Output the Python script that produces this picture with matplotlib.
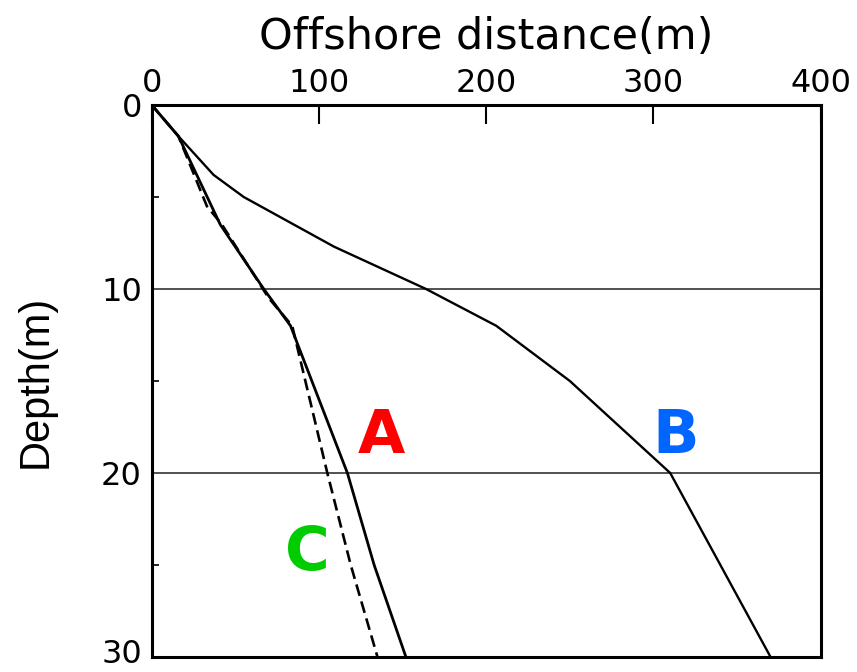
import matplotlib.pyplot as plt
import matplotlib.transforms as mtransforms
from matplotlib.ticker import MultipleLocator

plt.rcParams['font.family'] = ['DejaVu Sans']

# profile A (solid)
a_x = [0, 16, 41, 67, 83, 117, 133, 152]
a_y = [0, 1.7, 6.5, 10, 12, 20, 25, 30]
# profile B (solid)
b_x = [0, 16, 37, 55, 109, 164, 206, 250, 310, 370]
b_y = [0, 1.7, 3.8, 5, 7.7, 10, 12, 15, 20, 30]
# profile C (dashed)
c_x = [0, 16, 33, 42, 70, 84, 105, 119, 135]
c_y = [0, 1.7, 5.5, 6.5, 10.5, 12, 20, 25, 30]

labels = ["A", "B", "C"]
label_x = [137, 313, 93]
label_y = [18, 18, 24.4]
label_colors = ["#ff0000", "#0066ff", "#00cc00"]

fig = plt.figure(figsize=(8.57, 6.72), dpi=100)
ax = fig.add_axes([0.177, 0.0223, 0.7807, 0.8215])

ax.plot(a_x, a_y, color="black", linewidth=2.0)
ax.plot(b_x, b_y, color="black", linewidth=1.7)
ax.plot(c_x, c_y, color="black", linewidth=1.9, linestyle=(0, (4.5, 2.2)))

for t, lx, ly, col in zip(labels, label_x, label_y, label_colors):
    ax.text(lx, ly, t, color=col, fontsize=44, fontweight="bold",
            ha="center", va="center")

ax.set_xlim(0, 400)
ax.set_ylim(30, 0)
ax.xaxis.tick_top()
ax.xaxis.set_label_position("top")
ax.set_xticks([0, 100, 200, 300, 400])
ax.set_yticks([0, 10, 20, 30])
ax.yaxis.set_minor_locator(MultipleLocator(5))
ax.tick_params(axis="x", direction="in", length=14, width=1.5, labelsize=23, pad=4)
ax.tick_params(axis="y", which="major", length=0, labelsize=23, pad=7)
ax.tick_params(axis="y", which="minor", direction="in", length=5, width=1.2)
ax.yaxis.grid(True, which="major", color="#333333", linewidth=1.2)

for s in ax.spines.values():
    s.set_linewidth(2.2)

ax.set_xlabel("Offshore distance(m)", fontsize=31, labelpad=14)
ax.set_ylabel("Depth(m)", fontsize=30, labelpad=33, family=["Liberation Sans"])

# nudge the bottom "30" up a little so it stays inside the figure
last = ax.get_yticklabels()[-1]
last.set_transform(last.get_transform() +
                   mtransforms.ScaledTranslation(0, 4 / 72, fig.dpi_scale_trans))

fig.savefig("out.png", dpi=100)
